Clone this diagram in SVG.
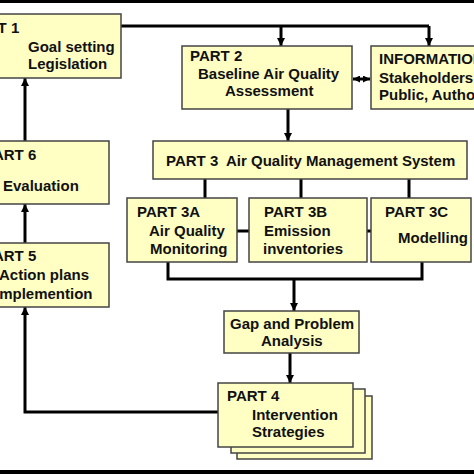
<svg xmlns="http://www.w3.org/2000/svg" width="474" height="474" viewBox="0 0 474 474">
<style>
.box{fill:#FFFFC4;stroke:#444;stroke-width:1.5}
.t{font-family:"Liberation Sans",Arial,sans-serif;font-weight:bold;font-size:15px;fill:#111}
.c{fill:none;stroke:#000;stroke-width:3}
</style>
<defs>
<marker id="ah" viewBox="0 0 8 8" refX="8" refY="4" markerWidth="8" markerHeight="8" markerUnits="userSpaceOnUse" orient="auto-start-reverse">
<path d="M0,0 L8,4 L0,8 z" fill="#000"/>
</marker>
<marker id="ahs" viewBox="0 0 8 8" refX="8" refY="4" markerWidth="7" markerHeight="7" markerUnits="userSpaceOnUse" orient="auto-start-reverse">
<path d="M0,0 L8,4 L0,8 z" fill="#000"/>
</marker>
</defs>
<rect x="0" y="0" width="474" height="474" fill="#fff"/>
<rect x="0" y="0" width="474" height="3" fill="#000"/>
<rect x="0" y="470" width="474" height="4" fill="#000"/>

<g id="connectors">
<path class="c" d="M121,26 H429"/>
<path class="c" d="M281,26 V46" marker-end="url(#ah)"/>
<path class="c" d="M429,26 V46" marker-end="url(#ah)"/>
<path class="c" d="M353,79 H370" marker-start="url(#ahs)" marker-end="url(#ahs)"/>
<path class="c" d="M288,109 V141" marker-end="url(#ah)"/>
<path class="c" d="M205,179 V198 M301,179 V198 M409,179 V198"/>
<path class="c" d="M237,231 H249 M367,231 H371"/>
<path class="c" d="M168,262 V279 H422 V262"/>
<path class="c" d="M294,279 V311" marker-end="url(#ah)"/>
<path class="c" d="M290,353 V383" marker-end="url(#ah)"/>
<path class="c" d="M218,412 H25 V307" marker-end="url(#ah)"/>
<path class="c" d="M25,243 V204" marker-end="url(#ah)"/>
<path class="c" d="M25,141 V78" marker-end="url(#ah)"/>
</g>

<g id="part1">
<rect class="box" x="-40" y="14" width="161" height="64"/>
<text class="t" x="-33" y="33">PART 1</text>
<text class="t" x="28" y="52">Goal setting</text>
<text class="t" x="28" y="69">Legislation</text>
</g>

<g id="part2">
<rect class="box" x="182" y="46" width="170" height="63"/>
<text class="t" x="190" y="61">PART 2</text>
<text class="t" x="198" y="79">Baseline Air Quality</text>
<text class="t" x="225" y="96">Assessment</text>
</g>

<g id="information">
<rect class="box" x="371" y="46" width="120" height="63"/>
<text class="t" x="379" y="64">INFORMATION</text>
<text class="t" x="379" y="83">Stakeholders</text>
<text class="t" x="379" y="100">Public, Authorities</text>
</g>

<g id="part6">
<rect class="box" x="-40" y="141" width="149" height="63"/>
<text class="t" x="-16" y="160">PART 6</text>
<text class="t" x="3" y="191">Evaluation</text>
</g>

<g id="part5">
<rect class="box" x="-40" y="243" width="149" height="64"/>
<text class="t" x="-16" y="261">PART 5</text>
<text class="t" x="-1" y="280">Action plans</text>
<text class="t" x="-5" y="299">Implemention</text>
</g>

<g id="part3">
<rect class="box" x="153" y="141" width="314" height="38"/>
<text class="t" x="166" y="166" xml:space="preserve">PART 3  Air Quality Management System</text>
</g>

<g id="part3a">
<rect class="box" x="127" y="198" width="110" height="64"/>
<text class="t" x="137" y="217">PART 3A</text>
<text class="t" x="149" y="236">Air Quality</text>
<text class="t" x="150" y="254">Monitoring</text>
</g>

<g id="part3b">
<rect class="box" x="249" y="198" width="118" height="64"/>
<text class="t" x="264" y="217">PART 3B</text>
<text class="t" x="264" y="236">Emission</text>
<text class="t" x="263" y="254">inventories</text>
</g>

<g id="part3c">
<rect class="box" x="371" y="198" width="100" height="64"/>
<text class="t" x="385" y="217">PART 3C</text>
<text class="t" x="398" y="243">Modelling</text>
</g>

<g id="gap">
<rect class="box" x="224" y="311" width="135" height="42"/>
<text class="t" x="230" y="329">Gap and Problem</text>
<text class="t" x="261" y="346">Analysis</text>
</g>

<g id="part4">
<rect class="box" x="237" y="396" width="135" height="63"/>
<rect class="box" x="231" y="389" width="134" height="64"/>
<rect class="box" x="218" y="383" width="135" height="64"/>
<text class="t" x="227" y="401">PART 4</text>
<text class="t" x="252" y="420">Intervention</text>
<text class="t" x="252" y="437">Strategies</text>
</g>
</svg>
